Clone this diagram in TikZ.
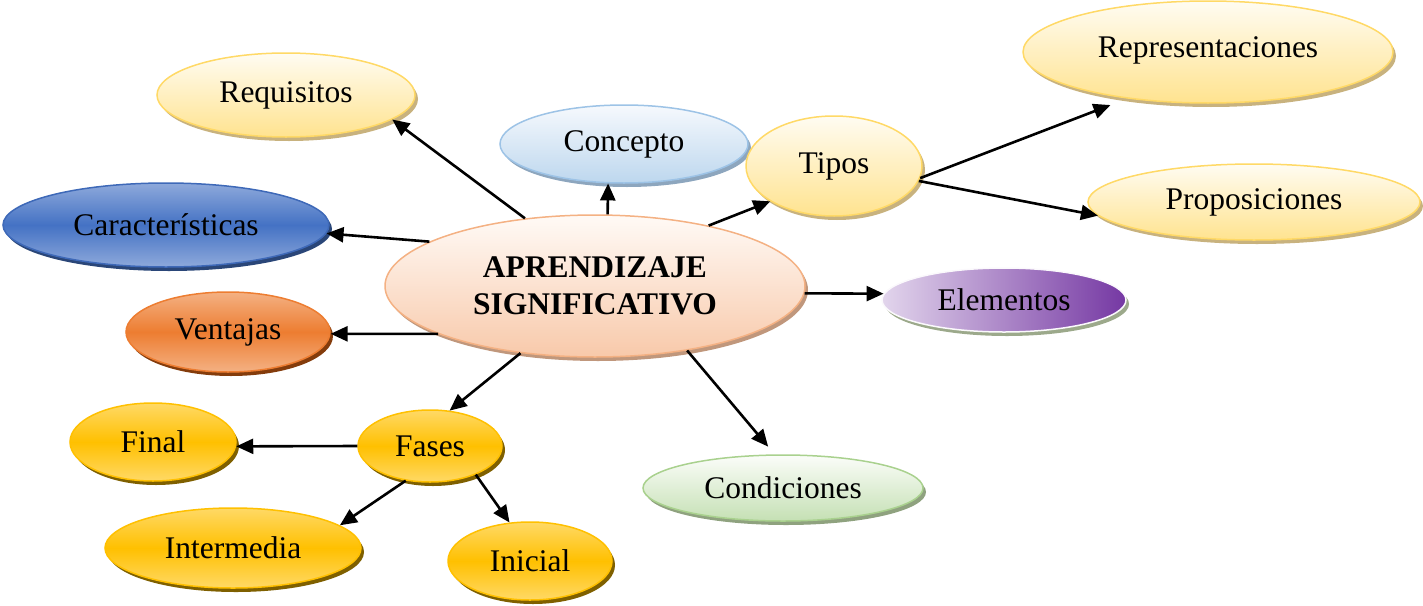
\documentclass[tikz,border=0pt]{standalone}
\usepackage{fontspec}
\setmainfont{Liberation Serif}
\usetikzlibrary{shapes.geometric,shadows,arrows.meta}
\definecolor{yTop}{HTML}{FFFCF2}
\definecolor{yBot}{HTML}{FFE38F}
\definecolor{yDraw}{HTML}{FFD966}
\definecolor{ySh}{HTML}{C8B27E}
\definecolor{bTop}{HTML}{F6F9FD}
\definecolor{bBot}{HTML}{BDD7EE}
\definecolor{bDraw}{HTML}{9DC3E6}
\definecolor{bSh}{HTML}{8DA6BE}
\definecolor{dTop}{HTML}{8EA9DB}
\definecolor{dMid}{HTML}{4472C4}
\definecolor{dDraw}{HTML}{3E69B8}
\definecolor{dSh}{HTML}{2A4678}
\definecolor{pTop}{HTML}{FFFAF6}
\definecolor{pBot}{HTML}{F8C9AA}
\definecolor{pDraw}{HTML}{F4B183}
\definecolor{pSh}{HTML}{C0977C}
\definecolor{vL}{HTML}{E2D5EC}
\definecolor{vR}{HTML}{7538A3}
\definecolor{vSh}{HTML}{9CA98B}
\definecolor{oTop}{HTML}{F4B183}
\definecolor{oMid}{HTML}{ED7D31}
\definecolor{oSh}{HTML}{843C0C}
\definecolor{gTop}{HTML}{FFD966}
\definecolor{gMid}{HTML}{FFC000}
\definecolor{gSh}{HTML}{7F6000}
\definecolor{cTop}{HTML}{FBFDF9}
\definecolor{cBot}{HTML}{C5E0B4}
\definecolor{cDraw}{HTML}{A9D18E}
\definecolor{cSh}{HTML}{8FA27F}
\tikzset{
  bub/.style={ellipse, inner sep=0pt, line width=1.5pt, font=\fontsize{31.5}{37}\selectfont, align=center},
  shd/.style={drop shadow={shadow xshift=3pt, shadow yshift=-4pt, fill=#1, opacity=1}},
  ylw/.style={bub, draw=yDraw, top color=yTop, bottom color=yBot, shd=ySh},
  lblue/.style={bub, draw=bDraw, top color=bTop, bottom color=bBot, shd=bSh},
  dblue/.style={bub, draw=dDraw, top color=dTop, bottom color=dTop, middle color=dMid, shd=dSh},
  peach/.style={bub, draw=pDraw, top color=pTop, bottom color=pBot, shd=pSh},
  purp/.style={bub, draw=white!85!vL, left color=vL, right color=vR, shd=vSh},
  orng/.style={bub, draw=oMid, top color=oTop, bottom color=oTop, middle color=oMid, shd=oSh},
  gold/.style={bub, draw=gMid, top color=gTop, bottom color=gTop, middle color=gMid, shd=gSh},
  grn/.style={bub, draw=cDraw, top color=cTop, bottom color=cBot, shd=cSh},
  arr/.style={line width=2.6pt, -{Triangle[length=17pt,width=15pt]}}
}
\begin{document}
\begin{tikzpicture}[x=1pt,y=-1pt]
\useasboundingbox (0,0) rectangle (1423,605);
\node[ylw, minimum width=258, minimum height=84] (req) at (286,95) {Requisitos};
\node[lblue, minimum width=248, minimum height=78] (con) at (624,144) {Concepto};
\node[ylw, minimum width=176, minimum height=100] (tip) at (834,166) {Tipos};
\node[ylw, minimum width=370, minimum height=102] (rep) at (1208,52) {\raisebox{9pt}{Representaciones}};
\node[ylw, minimum width=332, minimum height=76] (pro) at (1254,202) {Proposiciones};
\node[dblue, minimum width=326, minimum height=84] (car) at (166,225) {Características};
\node[peach, minimum width=420, minimum height=142] (ap) at (595,286) {\textbf{APRENDIZAJE}\\\textbf{SIGNIFICATIVO}};
\node[purp, minimum width=244, minimum height=64] (ele) at (1004,300) {Elementos};
\node[orng, minimum width=204, minimum height=80] (ven) at (228,332) {Ventajas};
\node[gold, minimum width=144, minimum height=72] (fas) at (430,446) {Fases};
\node[gold, minimum width=166, minimum height=78] (fin) at (153,442) {Final};
\node[grn, minimum width=280, minimum height=66] (cnd) at (783,488) {Condiciones};
\node[gold, minimum width=256, minimum height=80] (int) at (233,548) {Intermedia};
\node[gold, minimum width=164, minimum height=78] (ini) at (530,561) {Inicial};

\draw[arr] (ap.136) -- (req.347);
\draw[arr] (ap.80) -- (con.248);
\draw[arr] (ap.28) -- (tip.209);
\draw[arr, shorten >=18pt] (tip.352) -- (rep.210);
\draw[arr] (tip.350) -- (pro.185);
\draw[arr] (ap.165) -- (car.357);
\draw[arr] (ap.358) -- (ele.177);
\draw[arr] (ap.197) -- (ven.359);
\draw[arr] (ap.222) -- (fas.61);
\draw[arr, shorten >=10pt] (ap.325) -- (cnd.104);
\draw[arr] (fas.180) -- (fin.357);
\draw[arr] (fas.235) -- (int.12);
\draw[arr] (fas.328) -- (ini.118);
\end{tikzpicture}
\end{document}
